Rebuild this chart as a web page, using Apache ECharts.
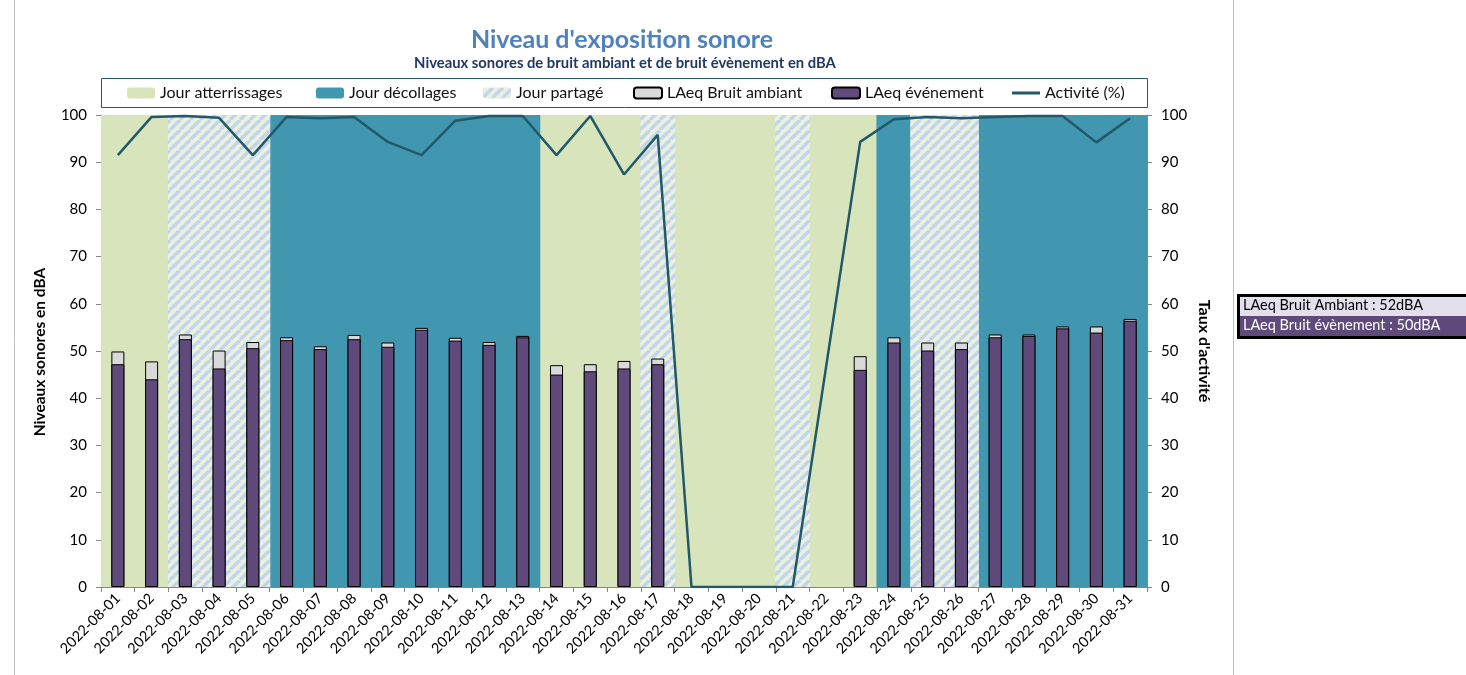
<!DOCTYPE html>
<html>
<head>
<meta charset="utf-8">
<script src="https://cdn.jsdelivr.net/npm/echarts@6/dist/echarts.min.js"></script>
<style>
html,body{margin:0;padding:0;background:#fff;}
#chart{width:1466px;height:675px;}
</style>
</head>
<body>
<div id="chart"></div>
<script>
const dates = ['2022-08-01','2022-08-02','2022-08-03','2022-08-04','2022-08-05','2022-08-06','2022-08-07','2022-08-08','2022-08-09','2022-08-10','2022-08-11','2022-08-12','2022-08-13','2022-08-14','2022-08-15','2022-08-16','2022-08-17','2022-08-18','2022-08-19','2022-08-20','2022-08-21','2022-08-22','2022-08-23','2022-08-24','2022-08-25','2022-08-26','2022-08-27','2022-08-28','2022-08-29','2022-08-30','2022-08-31'];
// A = Jour atterrissages, D = Jour décollages, P = Jour partagé
const dayType = ['A','A','P','P','P','D','D','D','D','D','D','D','D','A','A','A','P','A','A','A','P','A','A','D','P','P','D','D','D','D','D'];
const ambient = [49.9,47.8,53.5,50.1,51.9,52.9,51.0,53.4,51.8,54.9,52.8,51.9,53.2,47.0,47.2,47.9,48.4,null,null,null,null,null,48.9,52.9,51.8,51.8,53.5,53.5,55.2,55.2,56.8];
const eventLvl = [47.2,44.0,52.5,46.3,50.6,52.3,50.4,52.5,50.9,54.5,52.2,51.3,52.9,45.0,45.7,46.3,47.2,null,null,null,null,null,46.0,51.8,50.1,50.4,52.9,53.2,54.8,53.9,56.4];
const activity = [91.5,99.6,99.8,99.4,91.5,99.6,99.3,99.6,94.3,91.5,98.8,99.8,99.8,91.5,99.8,87.4,95.8,0,0,0,0,null,94.3,99.1,99.6,99.3,99.6,99.8,99.8,94.2,99.3];
const summaryLabels = ['LAeq Bruit Ambiant : 52dBA','LAeq Bruit évènement : 50dBA'];

const FONT = 'Lato';
// hatch pattern
const pc = document.createElement('canvas');
pc.width = 10; pc.height = 10;
const g = pc.getContext('2d');
g.fillStyle = '#ebf1de'; g.fillRect(0,0,10,10);
g.strokeStyle = '#c0d5ef'; g.lineWidth = 3.4;
[-10,0,10].forEach(ox=>{ g.beginPath(); g.moveTo(ox,10); g.lineTo(ox+10,0); g.stroke(); });
const hatch = {image: pc, repeat: 'repeat'};

function bgData(t){ return dayType.map(d => d === t ? 100 : null); }

const chart = echarts.init(document.getElementById('chart'));
const legendBase = {top: 85, itemWidth: 28, itemHeight: 11, textStyle:{fontFamily:FONT,fontSize:16,color:'#111'}, selectedMode:false, padding:0, itemGap:4};
chart.setOption({
  animation:false,
  textStyle:{fontFamily:FONT},
  graphic:[
    {type:'rect', shape:{x:14.5,y:-2,width:1219,height:680}, style:{fill:'none',stroke:'#bfbfbf',lineWidth:1}, z:-10},
    {type:'text', x:622, y:27, style:{text:"Niveau d'exposition sonore", fill:'#4f81bd', font:'bold 25px '+FONT, textAlign:'center'}},
    {type:'text', x:625, y:56, style:{text:'Niveaux sonores de bruit ambiant et de bruit évènement en dBA', fill:'#1f3864', font:'bold 14.8px '+FONT, textAlign:'center'}},
    {type:'rect', shape:{x:101.5,y:78.5,width:1046,height:29}, style:{fill:'#fff',stroke:'#215968',lineWidth:1}, z:-1},
    {type:'rect', shape:{x:1237,y:294,width:232,height:45}, style:{fill:'#000'}},
    {type:'rect', shape:{x:1240,y:297,width:229,height:19}, style:{fill:'#e4dfec'}},
    {type:'rect', shape:{x:1240,y:316,width:229,height:20}, style:{fill:'#604a7b'}},
    {type:'text', x:1243, y:298, style:{text:summaryLabels[0], fill:'#000', font:'14.5px '+FONT}},
    {type:'text', x:1243, y:318, style:{text:summaryLabels[1], fill:'#fff', font:'14.5px '+FONT}},
    {type:'text', x:40, y:352, rotation:Math.PI/2, style:{text:'Niveaux sonores en dBA', fill:'#000', font:'bold 15.5px '+FONT, textAlign:'center', textVerticalAlign:'middle'}},
    {type:'text', x:1204, y:351, rotation:-Math.PI/2, style:{text:"Taux d'activité", fill:'#000', font:'bold 16px '+FONT, textAlign:'center', textVerticalAlign:'middle'}}
  ],
  legend:[
    Object.assign({}, legendBase, {left:127, data:['Jour atterrissages']}),
    Object.assign({}, legendBase, {left:316, data:['Jour décollages']}),
    Object.assign({}, legendBase, {left:483, data:['Jour partagé']}),
    Object.assign({}, legendBase, {left:633, data:['LAeq Bruit ambiant']}),
    Object.assign({}, legendBase, {left:831, data:['LAeq événement']}),
    Object.assign({}, legendBase, {left:1012, itemHeight:3, icon:'rect', data:['Activité (%)']})
  ],
  grid:{left:101, right:319, top:115, bottom:88},
  xAxis:[
    {type:'category', data:dates, boundaryGap:true,
     axisLine:{lineStyle:{color:'#868686'}}, axisTick:{show:true, length:5, lineStyle:{color:'#868686'}},
     axisLabel:{rotate:45, fontSize:14.5, color:'#000', fontFamily:FONT, margin:9, interval:0}},
    {type:'category', data:dates, show:false}
  ],
  yAxis:[
    {type:'value', min:0, max:100, interval:10, position:'left',
     axisLine:{show:true, lineStyle:{color:'#868686'}}, axisTick:{show:true, length:5, lineStyle:{color:'#868686'}},
     splitLine:{show:false}, axisLabel:{fontSize:15, color:'#000', fontFamily:FONT, margin:14}},
    {type:'value', min:0, max:100, interval:10, position:'right',
     axisLine:{show:true, lineStyle:{color:'#868686'}}, axisTick:{show:true, length:5, lineStyle:{color:'#868686'}},
     splitLine:{show:false}, axisLabel:{fontSize:15, color:'#000', fontFamily:FONT, margin:14}}
  ],
  series:[
    {name:'Jour atterrissages', type:'bar', xAxisIndex:1, yAxisIndex:0, data:bgData('A'), barWidth:35, barGap:'-100%', itemStyle:{color:'#d8e4bc'}, z:0, silent:true},
    {name:'Jour décollages', type:'bar', xAxisIndex:1, yAxisIndex:0, data:bgData('D'), barWidth:35, barGap:'-100%', itemStyle:{color:'#4297b0'}, z:0, silent:true},
    {name:'Jour partagé', type:'bar', xAxisIndex:1, yAxisIndex:0, data:bgData('P'), barWidth:35, barGap:'-100%', itemStyle:{color:hatch}, z:0, silent:true},
    {name:'LAeq Bruit ambiant', type:'bar', xAxisIndex:0, yAxisIndex:0, data:ambient, barWidth:13, barGap:'-100%', itemStyle:{color:'#d9d9d9', borderColor:'#000', borderWidth:1}, z:3},
    {name:'LAeq événement', type:'bar', xAxisIndex:0, yAxisIndex:0, data:eventLvl, barWidth:13, barGap:'-100%', itemStyle:{color:'#604a7b', borderColor:'#000', borderWidth:1}, z:4},
    {name:'Activité (%)', type:'line', xAxisIndex:0, yAxisIndex:1, data:activity, connectNulls:true, showSymbol:false, symbol:'none', color:'#215968', lineStyle:{color:'#215968', width:2.5}, z:6}
  ]
});
</script>
</body>
</html>
